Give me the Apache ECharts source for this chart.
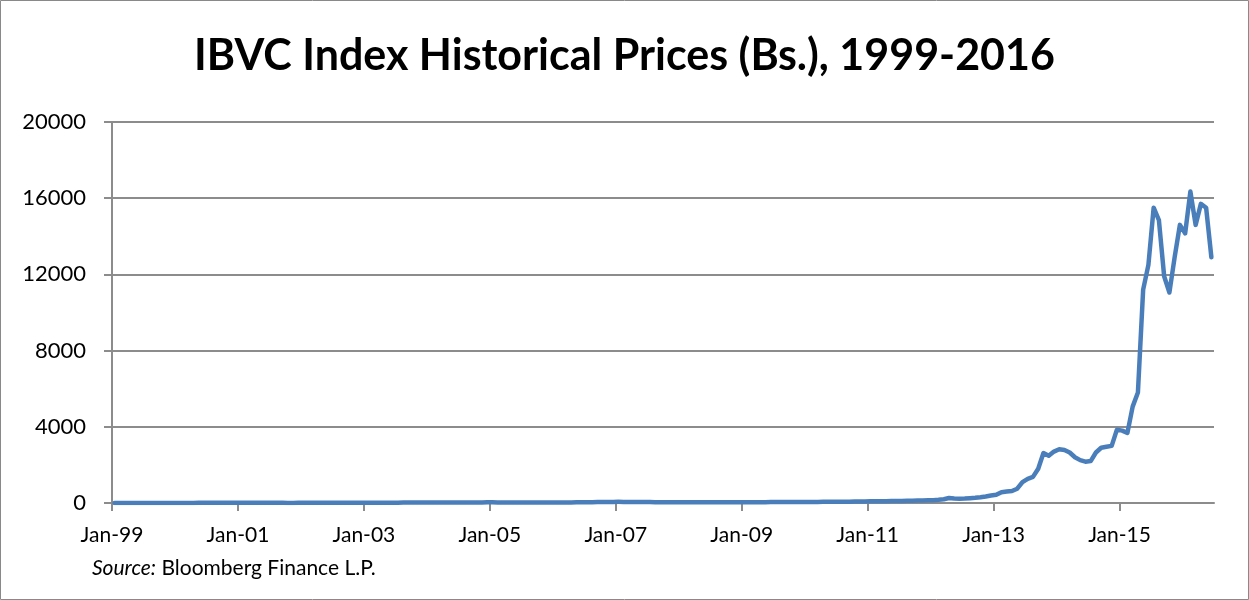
<!DOCTYPE html>
<html>
<head>
<meta charset="utf-8">
<title>IBVC Index Historical Prices</title>
<script src="https://cdn.jsdelivr.net/npm/echarts@6/dist/echarts.min.js"></script>
<style>
  html, body { margin: 0; padding: 0; background: #fff; }
  #chart { width: 1249px; height: 600px; }
</style>
</head>
<body>
<div id="chart"></div>
<script>
// monthly closes (Bs.), Jan of each year -> Dec
const p1999 = [5, 5, 5, 5, 6, 6, 6, 6, 5, 5, 5, 5]
const p2000 = [6, 6, 6, 6, 7, 7, 7, 7, 7, 7, 7, 7]
const p2001 = [7, 7, 7, 7, 7, 7, 7, 7, 7, 6, 6, 7]
const p2002 = [7, 7, 7, 7, 8, 8, 8, 8, 8, 8, 8, 9]
const p2003 = [9, 10, 11, 12, 14, 16, 18, 20, 21, 22, 22, 23]
const p2004 = [25, 27, 28, 28, 29, 29, 30, 30, 31, 31, 32, 33]
const p2005 = [33, 32, 31, 30, 29, 28, 27, 26, 25, 24, 24, 24]
const p2006 = [25, 27, 30, 32, 34, 36, 38, 42, 46, 50, 54, 58]
const p2007 = [60, 58, 55, 52, 50, 48, 46, 44, 42, 40, 39, 38]
const p2008 = [38, 37, 37, 36, 36, 35, 35, 35, 34, 34, 34, 35]
const p2009 = [36, 38, 40, 42, 44, 46, 48, 50, 52, 53, 54, 55]
const p2010 = [56, 57, 58, 60, 62, 64, 66, 68, 70, 74, 78, 82]
const p2011 = [86, 90, 94, 98, 102, 106, 110, 114, 120, 126, 134, 142]
const p2012 = [150, 170, 200, 260, 235, 225, 230, 250, 270, 300, 340, 390]
const p2013 = [430, 570, 600, 630, 750, 1100, 1270, 1370, 1800, 2620, 2480, 2700]
const p2014 = [2820, 2780, 2650, 2400, 2250, 2170, 2200, 2650, 2900, 2950, 3000, 3850]
const p2015 = [3800, 3680, 5060, 5800, 11200, 12500, 15500, 14850, 11900, 11050, 12900, 14600]
const p2016 = [14150, 16350, 14600, 15700, 15500, 12900]

const prices = [].concat(p1999, p2000, p2001, p2002, p2003, p2004, p2005, p2006,
  p2007, p2008, p2009, p2010, p2011, p2012, p2013, p2014, p2015, p2016)

// x axis counts months from Jan-99, labels every two years
const tickLabels = ['Jan-99', 'Jan-01', 'Jan-03', 'Jan-05', 'Jan-07', 'Jan-09', 'Jan-11', 'Jan-13', 'Jan-15']
const tickMonths = tickLabels.map((t, i) => i * 24)
const yTicks = [0, 4000, 8000, 12000, 16000, 20000]

const font = 'Lato'
const gray = '#8c8c8c'

const chart = echarts.init(document.getElementById('chart'))

chart.setOption({
  animation: false,
  title: {
    text: 'IBVC Index Historical Prices (Bs.), 1999-2016',
    left: 'center',
    top: 30,
    textStyle: { fontFamily: font, fontWeight: 'bold', fontSize: 43, color: '#000' }
  },
  grid: { left: 112, right: 35, top: 122, bottom: 97 },
  xAxis: {
    type: 'value',
    min: 0,
    max: 210,
    interval: 24,
    axisLine: { show: true, lineStyle: { color: gray, width: 2 } },
    axisTick: { show: true, length: 8, customValues: tickMonths, lineStyle: { color: gray, width: 2 } },
    axisLabel: {
      customValues: tickMonths,
      formatter: v => tickLabels[tickMonths.indexOf(v)] || '',
      margin: 22,
      fontFamily: font,
      fontSize: 21,
      color: '#000'
    },
    splitLine: { show: false }
  },
  yAxis: {
    type: 'value',
    min: yTicks[0],
    max: yTicks[yTicks.length - 1],
    interval: 4000,
    axisLine: { show: true, lineStyle: { color: gray, width: 2 } },
    axisTick: { show: true, length: 8, lineStyle: { color: gray, width: 2 } },
    axisLabel: { margin: 26, formatter: v => String(v), fontFamily: font, fontSize: 22, color: '#000' },
    splitLine: { show: true, lineStyle: { color: gray, width: 2 } }
  },
  graphic: [
    {
      type: 'rect',
      shape: { x: 0.5, y: 0.5, width: 1248, height: 599 },
      style: { fill: 'none', stroke: '#898989', lineWidth: 1 },
      silent: true
    },
    {
      type: 'text',
      left: 92,
      top: 558,
      style: {
        text: '{i|Source:} Bloomberg Finance L.P.',
        fontFamily: font,
        fontSize: 21,
        fill: '#000',
        rich: { i: { fontStyle: 'italic', fontFamily: font, fontSize: 21 } }
      }
    }
  ],
  series: [{
    type: 'line',
    data: prices.map((v, i) => [i + 0.5, v]),
    showSymbol: false,
    lineStyle: { color: '#4a7ebb', width: 4.5, join: 'round', cap: 'round' },
    itemStyle: { color: '#4a7ebb' }
  }]
})
</script>
</body>
</html>
